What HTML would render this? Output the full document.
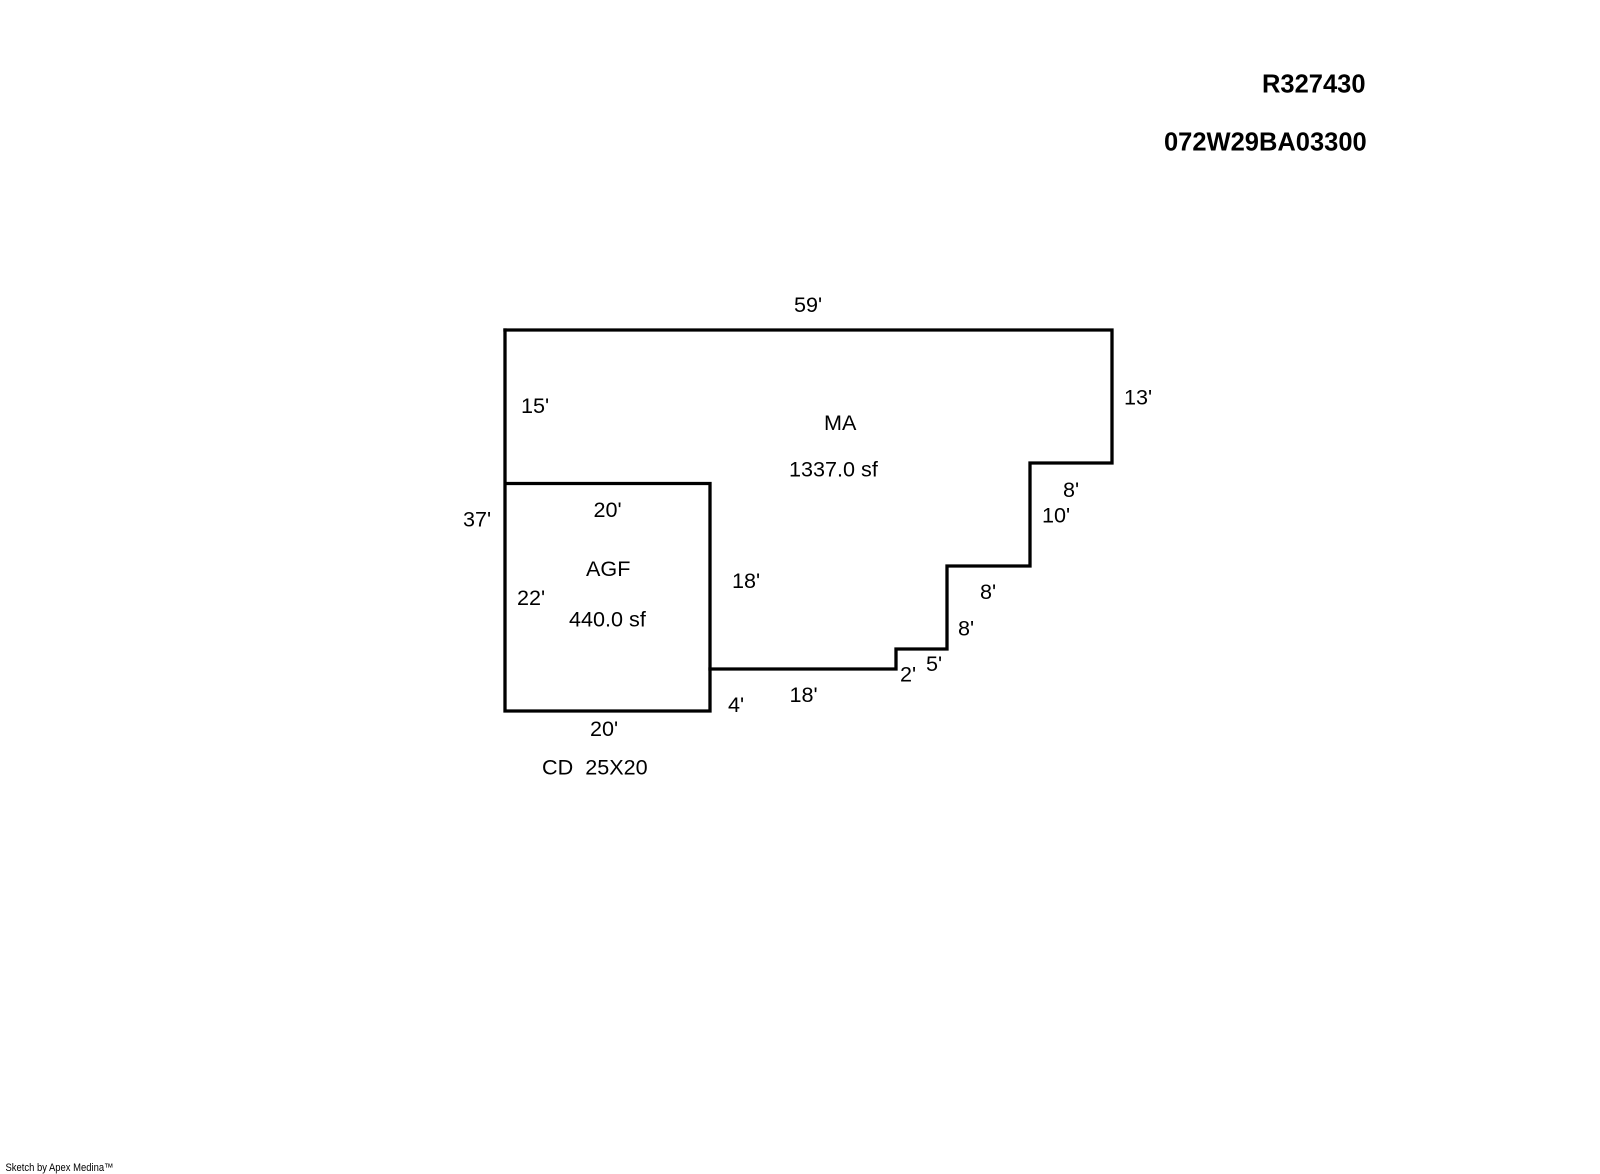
<!DOCTYPE html>
<html><head><meta charset="utf-8"><style>
html,body{margin:0;padding:0;background:#fff;width:1600px;height:1174px;overflow:hidden}
svg{display:block}
text{font-family:"Liberation Sans",Arial,sans-serif;font-size:21.6px;fill:#000}
.b{font-weight:bold;font-size:25.5px}
.s{font-size:10.8px}
</style></head><body>
<svg width="1600" height="1174" viewBox="0 0 1600 1174" xmlns="http://www.w3.org/2000/svg">
<rect width="1600" height="1174" fill="#fff"/>
<g fill="none" stroke="#000" stroke-width="3.3" stroke-linecap="square" stroke-linejoin="miter">
<path d="M505 330H1112V463H1030V566H947V649H896V669H710"/>
<path d="M505 330V711H710V483.5H505"/>
</g>
<text class="b" x="1262" y="92.5">R327430</text>
<text class="b" x="1164" y="150.5">072W29BA03300</text>
<text x="794" y="312">59'</text>
<text x="521" y="413">15'</text>
<text x="1124" y="404.5">13'</text>
<text x="824" y="430">MA</text>
<text x="789" y="476.5">1337.0 sf</text>
<text x="1063" y="497">8'</text>
<text x="1042" y="522.5">10'</text>
<text x="463" y="526.5">37'</text>
<text x="593.5" y="517">20'</text>
<text x="586" y="576">AGF</text>
<text x="517" y="605">22'</text>
<text x="569" y="626.5">440.0 sf</text>
<text x="732" y="588">18'</text>
<text x="980" y="599">8'</text>
<text x="958" y="635.5">8'</text>
<text x="926" y="671">5'</text>
<text x="900" y="681.5">2'</text>
<text x="789.5" y="702">18'</text>
<text x="728" y="712">4'</text>
<text x="590" y="736">20'</text>
<text x="542" y="774.5" xml:space="preserve">CD  25X20</text>
<text class="s" x="5.5" y="1171" textLength="108" lengthAdjust="spacingAndGlyphs">Sketch by Apex Medina™</text>
</svg>
</body></html>
